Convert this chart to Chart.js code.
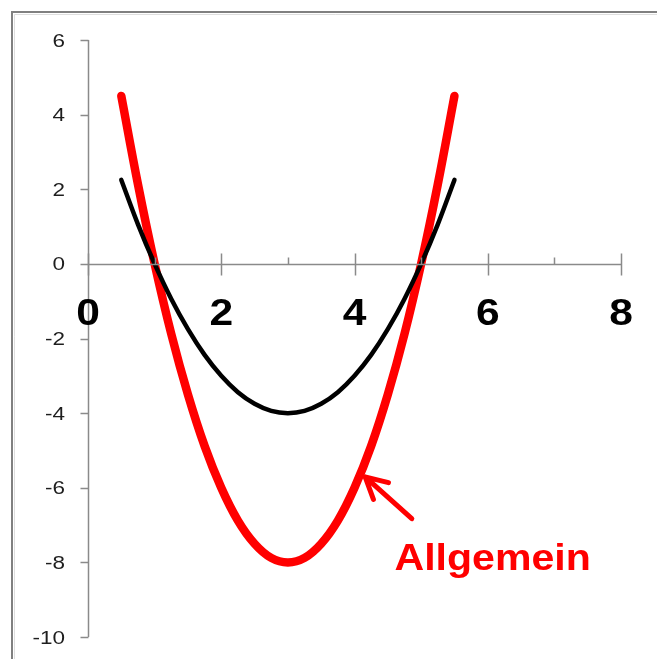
<!DOCTYPE html>
<html>
<head>
<meta charset="utf-8">
<script src="https://cdn.jsdelivr.net/npm/chart.js@4"></script>
<style>
  html, body { margin: 0; padding: 0; background: #fff; }
  #wrap { width: 657px; height: 659px; position: relative; }
</style>
</head>
<body>
<div id="wrap"><canvas id="chart" width="657" height="659"></canvas></div>
<script>
// values
const xValues = [0.5, 0.75, 1, 1.25, 1.5, 1.75, 2, 2.25, 2.5, 2.75, 3, 3.25, 3.5, 3.75, 4, 4.25, 4.5, 4.75, 5, 5.25, 5.5];
const blackValues = [2.25, 1.06, 0, -0.94, -1.75, -2.44, -3, -3.44, -3.75, -3.94, -4, -3.94, -3.75, -3.44, -3, -2.44, -1.75, -0.94, 0, 1.06, 2.25];
const redValues = [4.5, 2.13, 0, -1.88, -3.5, -4.88, -6, -6.88, -7.5, -7.88, -8, -7.88, -7.5, -6.88, -6, -4.88, -3.5, -1.88, 0, 2.13, 4.5];

const xTickValues = [0, 2, 4, 6, 8];
const xTickLabels = ['0', '2', '4', '6', '8'];
const xMinorValues = [1, 3, 5, 7];
const yTickValues = [6, 4, 2, 0, -2, -4, -6, -8, -10];
const yTickLabels = ['6', '4', '2', '0', '-2', '-4', '-6', '-8', '-10'];

const annotation = { text: 'Allgemein', tip: [4.16, -5.71], tail: [4.86, -6.83], textAt: [4.6, -8.2] };

const AXIS_COLOR = '#8a8a8a';

function toPoints(xs, ys) {
  return xs.map((x, i) => ({ x: x, y: ys[i] }));
}

// frame, axes and labels drawn with the chart's own scales
const axesPlugin = {
  id: 'axes',
  beforeDraw(chart) {
    const ctx = chart.ctx;
    ctx.save();
    ctx.fillStyle = '#fff';
    ctx.fillRect(0, 0, chart.width, chart.height);
    ctx.strokeStyle = '#dedede';
    ctx.lineWidth = 1;
    ctx.beginPath();
    ctx.moveTo(14.5, chart.height);
    ctx.lineTo(14.5, 14.5);
    ctx.lineTo(chart.width, 14.5);
    ctx.stroke();
    ctx.strokeStyle = '#808080';
    ctx.lineWidth = 2;
    ctx.beginPath();
    ctx.moveTo(12, chart.height);
    ctx.lineTo(12, 12);
    ctx.lineTo(chart.width, 12);
    ctx.stroke();
    ctx.restore();
  },
  afterDraw(chart) {
    const ctx = chart.ctx;
    const xs = chart.scales.x;
    const ys = chart.scales.y;
    const y0 = Math.round(ys.getPixelForValue(0)) + 0.5;
    const xLeft = Math.round(xs.getPixelForValue(0)) + 0.5;
    ctx.save();
    ctx.strokeStyle = AXIS_COLOR;
    ctx.lineWidth = 1.5;

    // y axis
    ctx.beginPath();
    ctx.moveTo(xLeft, ys.getPixelForValue(6));
    ctx.lineTo(xLeft, ys.getPixelForValue(-10));
    yTickValues.forEach(v => {
      const py = Math.round(ys.getPixelForValue(v)) + 0.5;
      ctx.moveTo(xLeft - 8, py);
      ctx.lineTo(xLeft, py);
    });
    ctx.stroke();

    // x axis through y = 0
    ctx.beginPath();
    ctx.moveTo(xLeft, y0);
    ctx.lineTo(xs.getPixelForValue(8), y0);
    xTickValues.forEach(v => {
      const px = Math.round(xs.getPixelForValue(v)) + 0.5;
      ctx.moveTo(px, y0 - 11);
      ctx.lineTo(px, y0 + 11);
    });
    xMinorValues.forEach(v => {
      const px = Math.round(xs.getPixelForValue(v)) + 0.5;
      ctx.moveTo(px, y0 - 7);
      ctx.lineTo(px, y0);
    });
    ctx.stroke();

    // y labels
    ctx.fillStyle = '#1e1e1e';
    ctx.textAlign = 'right';
    ctx.textBaseline = 'alphabetic';
    ctx.font = '18px "Liberation Sans", Arial, sans-serif';
    yTickValues.forEach((v, i) => {
      const py = ys.getPixelForValue(v);
      ctx.save();
      ctx.translate(65, py + 6.5);
      ctx.scale(1.25, 1);
      ctx.fillText(yTickLabels[i], 0, 0);
      ctx.restore();
    });

    // x labels
    ctx.fillStyle = '#000';
    ctx.textAlign = 'center';
    ctx.font = 'bold 37px "Liberation Sans", Arial, sans-serif';
    xTickValues.forEach((v, i) => {
      const px = xs.getPixelForValue(v);
      ctx.save();
      ctx.translate(px, y0 + 60);
      ctx.scale(1.15, 1);
      ctx.fillText(xTickLabels[i], 0, 0);
      ctx.restore();
    });
    ctx.restore();
  },
  afterDatasetsDraw(chart) {
    const ctx = chart.ctx;
    const xs = chart.scales.x;
    const ys = chart.scales.y;
    const tx = xs.getPixelForValue(annotation.tip[0]);
    const ty = ys.getPixelForValue(annotation.tip[1]);
    const ex = xs.getPixelForValue(annotation.tail[0]);
    const ey = ys.getPixelForValue(annotation.tail[1]);
    const ang = Math.atan2(ey - ty, ex - tx);
    const head = 24;
    const spread = 28 * Math.PI / 180;

    ctx.save();
    ctx.strokeStyle = '#ff0000';
    ctx.lineWidth = 5;
    ctx.lineCap = 'round';
    ctx.lineJoin = 'round';
    ctx.beginPath();
    ctx.moveTo(ex, ey);
    ctx.lineTo(tx, ty);
    ctx.moveTo(tx + head * Math.cos(ang - spread), ty + head * Math.sin(ang - spread));
    ctx.lineTo(tx, ty);
    ctx.lineTo(tx + head * Math.cos(ang + spread), ty + head * Math.sin(ang + spread));
    ctx.stroke();

    ctx.fillStyle = '#ff0000';
    ctx.textAlign = 'left';
    ctx.textBaseline = 'alphabetic';
    ctx.font = 'bold 37px "Liberation Sans", Arial, sans-serif';
    ctx.translate(xs.getPixelForValue(annotation.textAt[0]), ys.getPixelForValue(annotation.textAt[1]));
    ctx.scale(1.11, 1);
    ctx.fillText(annotation.text, 0, 0);
    ctx.restore();
  }
};

new Chart(document.getElementById('chart'), {
  type: 'scatter',
  data: {
    datasets: [
      {
        label: 'Normal',
        data: toPoints(xValues, blackValues),
        showLine: true,
        borderColor: '#000000',
        borderWidth: 4.5,
        tension: 0.4,
        pointRadius: 0,
        borderCapStyle: 'round'
      },
      {
        label: 'Allgemein',
        data: toPoints(xValues, redValues),
        showLine: true,
        borderColor: '#ff0000',
        borderWidth: 8.5,
        tension: 0.4,
        pointRadius: 0,
        borderCapStyle: 'round'
      }
    ]
  },
  options: {
    responsive: false,
    animation: false,
    layout: { padding: { left: 88, right: 36, top: 40, bottom: 22 } },
    plugins: { legend: { display: false }, tooltip: { enabled: false } },
    scales: {
      x: { type: 'linear', min: 0, max: 8, display: false },
      y: { type: 'linear', min: -10, max: 6, display: false }
    }
  },
  plugins: [axesPlugin]
});
</script>
</body>
</html>
